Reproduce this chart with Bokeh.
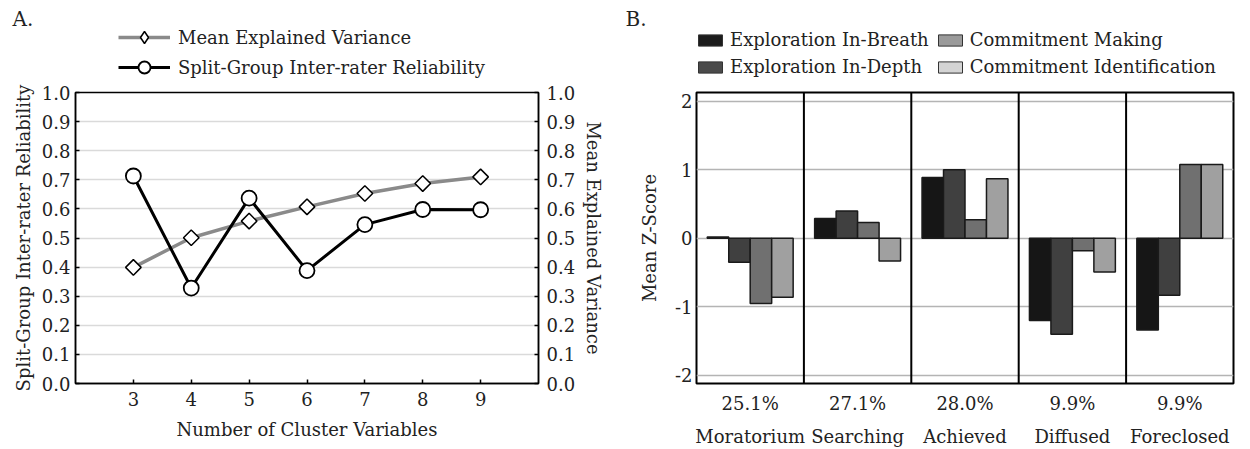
from bokeh.plotting import figure
from bokeh.models import (Range1d, LinearAxis, FixedTicker, PrintfTickFormatter, Legend,
                          LegendItem, Span, FactorRange, ColumnDataSource, Label)
from bokeh.transform import dodge
from bokeh.layouts import row, column
from bokeh.embed import file_html
from bokeh.resources import INLINE

FONT = "DejaVu Serif"
FS = "18px"
TXT = "#222222"

# ---------------- Panel A data ----------------
n_vars = [3, 4, 5, 6, 7, 8, 9]
reliability = [0.713, 0.328, 0.637, 0.388, 0.546, 0.598, 0.597]
variance = [0.399, 0.501, 0.558, 0.607, 0.653, 0.687, 0.710]
a_x_ticks = [3, 4, 5, 6, 7, 8, 9]
a_y_ticks = [0.0, 0.1, 0.2, 0.3, 0.4, 0.5, 0.6, 0.7, 0.8, 0.9, 1.0]
a_series = ["Mean Explained Variance", "Split-Group Inter-rater Reliability"]

# ---------------- Panel B data ----------------
clusters = ["Moratorium", "Searching", "Achieved", "Diffused", "Foreclosed"]
cluster_pct = ["25.1%", "27.1%", "28.0%", "9.9%", "9.9%"]
expl_breadth = [0.02, 0.29, 0.89, -1.20, -1.34]
expl_depth = [-0.35, 0.40, 1.00, -1.40, -0.83]
commit_making = [-0.95, 0.23, 0.27, -0.18, 1.08]
commit_ident = [-0.86, -0.33, 0.87, -0.49, 1.08]
series_names = ["Exploration In-Breath", "Exploration In-Depth",
                "Commitment Making", "Commitment Identification"]
b_y_ticks = [-2, -1, 0, 1, 2]

HEAD_H = 82
Y0 = 10  # header y-range starts above the data, so legend proxies stay off-canvas


def style_axis(ax):
    ax.major_label_text_font = FONT
    ax.major_label_text_font_size = FS
    ax.major_label_text_color = TXT
    ax.axis_label_text_font = FONT
    ax.axis_label_text_font_size = FS
    ax.axis_label_text_font_style = "normal"
    ax.axis_label_text_color = TXT
    ax.minor_tick_line_color = None


def header(width):
    h = figure(width=width, height=HEAD_H, x_range=Range1d(0, width),
               y_range=Range1d(Y0, Y0 + HEAD_H),
               x_axis_type=None, y_axis_type=None, output_backend="svg", toolbar_location=None,
               min_border=0)
    h.outline_line_color = None
    return h


def legend_style(leg):
    leg.label_text_font = FONT
    leg.label_text_font_size = FS
    leg.label_text_color = TXT
    leg.background_fill_alpha = 0
    leg.border_line_color = None
    leg.padding = 0
    leg.margin = 0


# ================= Header A =================
hA = header(620)
hA.add_layout(Label(x=12, y=Y0 + HEAD_H - 30, text="A.", text_font=FONT, text_font_size="20px",
                    text_color=TXT))
lg_gray = hA.line(n_vars, variance, line_color="#8a8a8a", line_width=3.5)
lg_dia = hA.scatter(n_vars, variance, marker="diamond", fill_color="white",
                    line_color="black", line_width=1.5)
lg_blk = hA.line(n_vars, reliability, line_color="black", line_width=3)
lg_cir = hA.scatter(n_vars, reliability, marker="circle", fill_color="white",
                    line_color="black", line_width=1.8)
legA = Legend(items=[LegendItem(label=a_series[0], renderers=[lg_gray, lg_dia]),
                     LegendItem(label=a_series[1], renderers=[lg_blk, lg_cir])],
              location=(118, 0), glyph_width=52, glyph_height=30, spacing=0, label_standoff=8)
legend_style(legA)
hA.add_layout(legA, "center")

# ================= Panel A =================
pA = figure(width=620, height=449 - HEAD_H, x_range=Range1d(2, 10), y_range=Range1d(0, 1),
            output_backend="svg", toolbar_location=None,
            min_border_left=75, min_border_right=82, min_border_top=10, min_border_bottom=62)
pA.extra_y_ranges = {"right": Range1d(0, 1)}

pA.xaxis.ticker = FixedTicker(ticks=a_x_ticks)
pA.yaxis.ticker = FixedTicker(ticks=a_y_ticks)
pA.yaxis.formatter = PrintfTickFormatter(format="%.1f")
pA.xaxis.axis_label = "Number of Cluster Variables"
pA.yaxis.axis_label = a_series[1]
rax = LinearAxis(y_range_name="right", axis_label=a_series[0],
                 ticker=FixedTicker(ticks=a_y_ticks),
                 formatter=PrintfTickFormatter(format="%.1f"))
pA.add_layout(rax, "right")
for ax in [pA.xaxis[0], pA.yaxis[0], rax]:
    style_axis(ax)
    ax.major_tick_in = 4
    ax.major_tick_out = 0
    ax.major_tick_line_width = 1.5
    ax.axis_line_width = 1.5
pA.xaxis.major_label_standoff = 8
pA.xaxis.axis_label_standoff = 10
rax.major_label_standoff = 8

pA.xgrid.visible = False
pA.ygrid.ticker = FixedTicker(ticks=a_y_ticks)
pA.ygrid.grid_line_color = "#dadada"
pA.ygrid.grid_line_width = 1.5
pA.outline_line_color = "black"
pA.outline_line_width = 1.5

pA.line(n_vars, variance, y_range_name="right", line_color="#8a8a8a", line_width=3.5)
pA.scatter(n_vars, variance, y_range_name="right", marker="square", angle=0.7854,
           size=11, fill_color="white", line_color="black", line_width=1.5)
pA.line(n_vars, reliability, line_color="black", line_width=3)
pA.scatter(n_vars, reliability, marker="circle", size=15,
           fill_color="white", line_color="black", line_width=1.8)

# ================= Header B =================
hB = header(630)
hB.add_layout(Label(x=5, y=Y0 + HEAD_H - 30, text="B.", text_font=FONT, text_font_size="20px",
                    text_color=TXT))
leg_fill = ["#1c1c1c", "#4a4a4a", "#9a9a9a", "#d4d4d4"]
leg_vals = [expl_breadth, expl_depth, commit_making, commit_ident]
leg_items = []
for name, fc, vals in zip(series_names, leg_fill, leg_vals):
    r = hB.vbar(x=list(range(len(clusters))), top=vals, width=0.8,
                fill_color=fc, line_color="#333333", line_width=1)
    leg_items.append(LegendItem(label=name, renderers=[r]))
legB = Legend(items=leg_items, location=(75, 5), nrows=2, glyph_width=30, glyph_height=14,
              spacing=6, label_standoff=5, label_height=20)
legend_style(legB)
hB.add_layout(legB, "center")

# ================= Panel B =================
factors = list(zip(clusters, cluster_pct))
pB = figure(width=630, height=449 - HEAD_H,
            x_range=FactorRange(*factors, group_padding=0, factor_padding=0, subgroup_padding=0),
            y_range=Range1d(-2.12, 2.13),
            output_backend="svg", toolbar_location=None,
            min_border_left=76, min_border_right=17, min_border_top=10, min_border_bottom=62)

src = ColumnDataSource(dict(xf=factors, eb=expl_breadth, ed=expl_depth,
                            cm=commit_making, ci=commit_ident))
bar_cols = ["eb", "ed", "cm", "ci"]
bar_fill = ["#161616", "#404040", "#707070", "#a0a0a0"]
offsets = [-0.3, -0.1, 0.1, 0.3]
for col, fc, off in zip(bar_cols, bar_fill, offsets):
    pB.vbar(x=dodge("xf", off, range=pB.x_range), top=col, bottom=0, width=0.2,
            source=src, fill_color=fc, line_color="#1a1a1a", line_width=1.5)

for loc in [1, 2, 3, 4]:
    pB.add_layout(Span(location=loc, dimension="height", line_color="black", line_width=2))

pB.xgrid.visible = False
pB.ygrid.ticker = FixedTicker(ticks=b_y_ticks)
pB.ygrid.grid_line_color = "#b4b4b4"
pB.ygrid.grid_line_width = 1.5
pB.yaxis.ticker = FixedTicker(ticks=b_y_ticks)
pB.yaxis.formatter = PrintfTickFormatter(format="%d")
pB.yaxis.axis_label = "Mean Z-Score"
for ax in [pB.xaxis[0], pB.yaxis[0]]:
    style_axis(ax)
    ax.major_tick_in = 0
    ax.major_tick_out = 0
    ax.axis_line_color = None
xa = pB.xaxis[0]
xa.separator_line_color = None
xa.group_text_font = FONT
xa.group_text_font_size = FS
xa.group_text_font_style = "normal"
xa.group_text_color = TXT
xa.major_label_standoff = 9
pB.yaxis.major_label_standoff = 4
pB.yaxis.axis_label_standoff = 12
pB.outline_line_color = "black"
pB.outline_line_width = 2

layout = column(row(hA, hB), row(pA, pB))
open("out.html", "w").write(file_html(layout, INLINE))
